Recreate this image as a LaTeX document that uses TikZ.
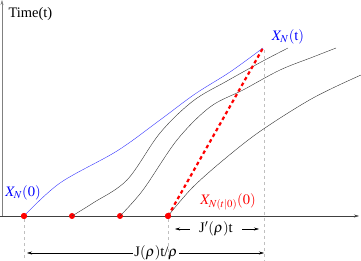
\documentclass[tikz,border=0pt]{standalone}
\usepackage{mathptmx}
\usepackage[no-math]{fontspec}
\setmainfont{Liberation Serif}
\usetikzlibrary{arrows.meta}

\begin{document}
\begin{tikzpicture}[x=1pt, y=-1pt, font=\fontsize{14.5}{16}\selectfont,
    dot/.style={circle, fill=red, inner sep=0pt, minimum size=6pt},
    guide/.style={dashed, gray!50, line width=1pt},
    arr/.style={-{Stealth[length=5pt,width=3pt]}}]
    \useasboundingbox (0,0) rectangle (361,261);

    % Axes
    \coordinate (o) at (2,216);
    \coordinate (yend) at (2,0);
    \coordinate (xend) at (359,216);
    \draw[arr, black!50] (o) -- (yend);
    \draw[arr, black!75] (0,216) -- (xend);
    \node[anchor=west] (tlabel) at (5,14) {Time(t)};

    % Starting points
    \node[dot] (p0) at (24,216) {};
    \node[dot] (p1) at (72,216) {};
    \node[dot] (p2) at (120,216) {};
    \node[dot] (p3) at (168,216) {};

    % Ends of the trajectories
    \coordinate (e0) at (263,48);
    \coordinate (e1) at (288,48);
    \coordinate (e2) at (336,48);
    \coordinate (e3) at (361,75);

    % Guides
    \coordinate (g0) at (24,261);
    \coordinate (g3) at (168,261);
    \coordinate (g4) at (264,261);
    \draw[guide] (p0) -- (g0);
    \draw[guide] (p3) -- (g3);
    \draw[guide] (264,50) -- (g4);

    % Trajectories
    \draw[blue!80, thin] plot[smooth, tension=0.55] coordinates {(p0.center) (60,183) (117,151) (160,120) (195,94) (230,72) (e0)};
    \draw[black!80, thin] plot[smooth, tension=0.55] coordinates {(p1.center) (93,203) (127,180) (160,133) (193,101) (227,81) (263,61) (e1)};
    \draw[black!80, thin] plot[smooth, tension=0.55] coordinates {(p2.center) (143,190) (177,140) (210,107) (243,90) (280,70) (313,57) (e2)};
    \draw[black!80, thin] plot[smooth, tension=0.55] coordinates {(p3.center) (193,187) (227,157) (262,130) (313,98) (e3)};
    \draw[red, line width=2.2pt, dash pattern=on 3.5pt off 3pt] (p3.center) -- (e0);
    \node[dot] at (p0) {};
    \node[dot] at (p3) {};

    % Labels
    \node[blue] (lab0) at (23,193) {$X_N(0)$};
    \node[blue] (labt) at (288,37) {$X_N(\mathrm{t})$};
    \node[red] (labr) at (228,202) {$X_{N(t|0)}(0)$};

    % Lengths
    \node (jp) at (216,229) {J$'(\rho)$t};
    \coordinate (jpl) at (175,229);
    \coordinate (jpr) at (259,229);
    \draw[arr] ([xshift=-6pt]jp.west) -- (jpl);
    \draw[arr] ([xshift=6pt]jp.east) -- (jpr);
    \node[inner sep=1pt] (j) at (156,253) {J$(\rho)$t/$\rho$};
    \coordinate (jl) at (27,253);
    \coordinate (jr) at (264,253);
    \draw[arr] (j.west) -- (jl);
    \draw[arr] (j.east) -- (jr);
\end{tikzpicture}
\end{document}
